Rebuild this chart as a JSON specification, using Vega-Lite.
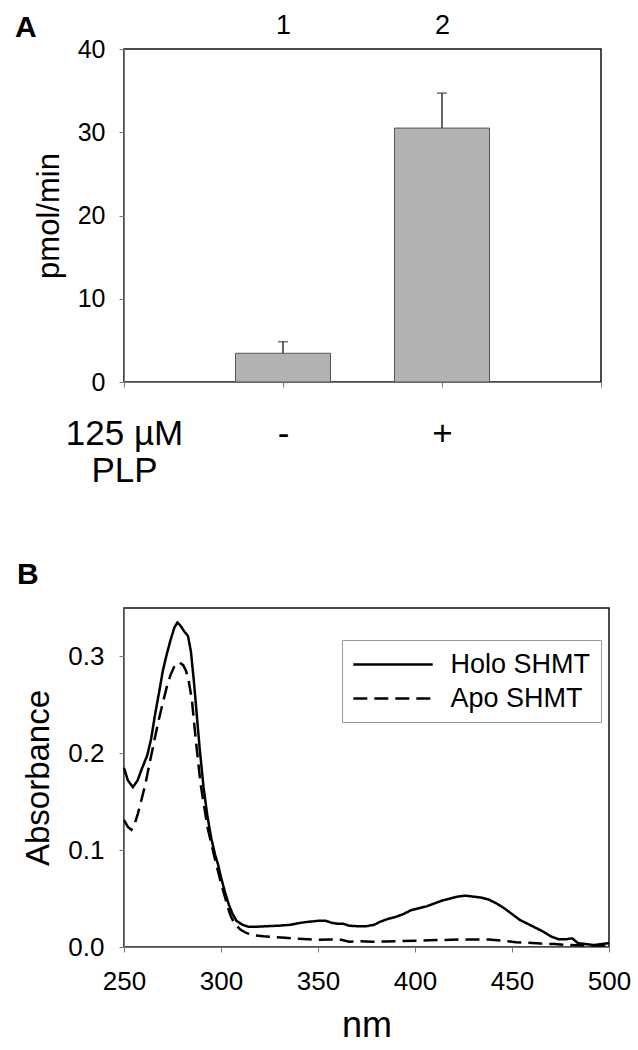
{
  "$schema": "https://vega.github.io/schema/vega-lite/v6.json",
  "padding": {"left": 14, "top": 10, "right": 5, "bottom": 5},
  "spacing": 70,
  "resolve": {"legend": {"strokeDash": "independent"}},
  "config": {
    "font": "Liberation Sans",
    "view": {"stroke": "#111", "strokeWidth": 1.5},
    "axis": {"labelFont": "Liberation Sans", "titleFont": "Liberation Sans", "labelColor": "black", "titleColor": "black", "grid": false, "titleFontWeight": "normal", "domainColor": "#777", "tickColor": "#777", "tickSize": 5},
    "legend": {"labelFont": "Liberation Sans", "labelColor": "black"},
    "title": {"font": "Liberation Sans", "color": "black"}
  },
  "vconcat": [
    {
      "width": 477,
      "height": 333,
      "title": {"text": "A", "anchor": "start", "frame": "group", "fontSize": 30, "fontWeight": "bold", "offset": -32, "dx": -109},
      "data": {"values": [
        {"pos": "1", "plp": "-", "value": 3.45, "upper": 4.84},
        {"pos": "2", "plp": "+", "value": 30.5, "upper": 34.7}
      ]},
      "layer": [
        {
          "mark": {"type": "bar", "width": 95, "color": "#b2b2b2", "stroke": "#555", "strokeWidth": 1},
          "encoding": {
            "x": {"field": "pos", "type": "ordinal", "scale": {"type": "point", "domain": ["0", "1", "2", "3"], "padding": 0},
              "axis": {"orient": "bottom", "title": null, "labelAngle": 0, "labelOverlap": false, "labelFontSize": 35, "labelLineHeight": 37, "labelPadding": 29,
                "labelExpr": "datum.value == '0' ? ['125 µM', 'PLP'] : datum.value == '1' ? '-' : datum.value == '2' ? '+' : ''"}},
            "y": {"field": "value", "type": "quantitative", "title": "pmol/min", "scale": {"domain": [0, 40], "nice": false},
              "axis": {"values": [0, 10, 20, 30, 40], "labelFontSize": 25, "labelPadding": 14, "titleFontSize": 31, "titlePadding": 12}}
          }
        },
        {
          "mark": {"type": "rule", "color": "#333", "strokeWidth": 1.5},
          "encoding": {
            "x": {"field": "pos", "type": "ordinal", "scale": {"type": "point", "domain": ["0", "1", "2", "3"], "padding": 0},
              "axis": {"orient": "top", "title": null, "values": ["1", "2"], "ticks": false, "domain": false, "labelAngle": 0, "labelFontSize": 27, "labelPadding": 10}},
            "y": {"field": "value", "type": "quantitative", "title": "pmol/min"},
            "y2": {"field": "upper"}
          }
        },
        {
          "mark": {"type": "tick", "color": "#333", "size": 10, "thickness": 1.5},
          "encoding": {
            "x": {"field": "pos", "type": "ordinal", "axis": null},
            "y": {"field": "upper", "type": "quantitative", "title": "pmol/min"}
          }
        }
      ],
      "resolve": {"axis": {"x": "independent"}}
    },
    {
      "width": 485,
      "height": 339,
      "title": {"text": "B", "anchor": "start", "frame": "group", "fontSize": 30, "fontWeight": "bold", "offset": 18, "dx": -107},
      "data": {"values": [
        {"sample": "Holo SHMT", "nm": 250, "abs": 0.185},
        {"sample": "Holo SHMT", "nm": 252, "abs": 0.172},
        {"sample": "Holo SHMT", "nm": 254.6, "abs": 0.165},
        {"sample": "Holo SHMT", "nm": 257, "abs": 0.172},
        {"sample": "Holo SHMT", "nm": 259, "abs": 0.183},
        {"sample": "Holo SHMT", "nm": 262, "abs": 0.198},
        {"sample": "Holo SHMT", "nm": 264, "abs": 0.215},
        {"sample": "Holo SHMT", "nm": 266, "abs": 0.24},
        {"sample": "Holo SHMT", "nm": 268, "abs": 0.262},
        {"sample": "Holo SHMT", "nm": 270, "abs": 0.285},
        {"sample": "Holo SHMT", "nm": 272, "abs": 0.302},
        {"sample": "Holo SHMT", "nm": 274, "abs": 0.317},
        {"sample": "Holo SHMT", "nm": 276, "abs": 0.33},
        {"sample": "Holo SHMT", "nm": 277.5, "abs": 0.335},
        {"sample": "Holo SHMT", "nm": 279, "abs": 0.332},
        {"sample": "Holo SHMT", "nm": 281, "abs": 0.326},
        {"sample": "Holo SHMT", "nm": 283, "abs": 0.321},
        {"sample": "Holo SHMT", "nm": 284.5, "abs": 0.305},
        {"sample": "Holo SHMT", "nm": 286, "abs": 0.275},
        {"sample": "Holo SHMT", "nm": 287.5, "abs": 0.24},
        {"sample": "Holo SHMT", "nm": 289, "abs": 0.205},
        {"sample": "Holo SHMT", "nm": 291, "abs": 0.165},
        {"sample": "Holo SHMT", "nm": 293, "abs": 0.135},
        {"sample": "Holo SHMT", "nm": 295, "abs": 0.112},
        {"sample": "Holo SHMT", "nm": 297, "abs": 0.095},
        {"sample": "Holo SHMT", "nm": 298.5, "abs": 0.085},
        {"sample": "Holo SHMT", "nm": 300, "abs": 0.072},
        {"sample": "Holo SHMT", "nm": 302, "abs": 0.057},
        {"sample": "Holo SHMT", "nm": 304, "abs": 0.044},
        {"sample": "Holo SHMT", "nm": 306, "abs": 0.034},
        {"sample": "Holo SHMT", "nm": 308, "abs": 0.027},
        {"sample": "Holo SHMT", "nm": 311, "abs": 0.023},
        {"sample": "Holo SHMT", "nm": 314, "abs": 0.021},
        {"sample": "Holo SHMT", "nm": 319, "abs": 0.021},
        {"sample": "Holo SHMT", "nm": 324, "abs": 0.0215},
        {"sample": "Holo SHMT", "nm": 330, "abs": 0.022},
        {"sample": "Holo SHMT", "nm": 336, "abs": 0.023},
        {"sample": "Holo SHMT", "nm": 341, "abs": 0.025},
        {"sample": "Holo SHMT", "nm": 345, "abs": 0.026},
        {"sample": "Holo SHMT", "nm": 350, "abs": 0.027},
        {"sample": "Holo SHMT", "nm": 354, "abs": 0.027},
        {"sample": "Holo SHMT", "nm": 357, "abs": 0.025},
        {"sample": "Holo SHMT", "nm": 360, "abs": 0.024},
        {"sample": "Holo SHMT", "nm": 363, "abs": 0.024},
        {"sample": "Holo SHMT", "nm": 366, "abs": 0.022},
        {"sample": "Holo SHMT", "nm": 370, "abs": 0.0215},
        {"sample": "Holo SHMT", "nm": 375, "abs": 0.0215},
        {"sample": "Holo SHMT", "nm": 379, "abs": 0.023},
        {"sample": "Holo SHMT", "nm": 382, "abs": 0.026},
        {"sample": "Holo SHMT", "nm": 386, "abs": 0.029},
        {"sample": "Holo SHMT", "nm": 390, "abs": 0.031},
        {"sample": "Holo SHMT", "nm": 394, "abs": 0.034},
        {"sample": "Holo SHMT", "nm": 398, "abs": 0.038},
        {"sample": "Holo SHMT", "nm": 402, "abs": 0.04},
        {"sample": "Holo SHMT", "nm": 406, "abs": 0.042},
        {"sample": "Holo SHMT", "nm": 410, "abs": 0.045},
        {"sample": "Holo SHMT", "nm": 414, "abs": 0.048},
        {"sample": "Holo SHMT", "nm": 418, "abs": 0.05},
        {"sample": "Holo SHMT", "nm": 422, "abs": 0.052},
        {"sample": "Holo SHMT", "nm": 426, "abs": 0.053},
        {"sample": "Holo SHMT", "nm": 430, "abs": 0.052},
        {"sample": "Holo SHMT", "nm": 434, "abs": 0.051},
        {"sample": "Holo SHMT", "nm": 438, "abs": 0.049},
        {"sample": "Holo SHMT", "nm": 442, "abs": 0.045},
        {"sample": "Holo SHMT", "nm": 446, "abs": 0.04},
        {"sample": "Holo SHMT", "nm": 450, "abs": 0.034},
        {"sample": "Holo SHMT", "nm": 454, "abs": 0.028},
        {"sample": "Holo SHMT", "nm": 458, "abs": 0.024},
        {"sample": "Holo SHMT", "nm": 462, "abs": 0.02},
        {"sample": "Holo SHMT", "nm": 466, "abs": 0.016},
        {"sample": "Holo SHMT", "nm": 470, "abs": 0.011},
        {"sample": "Holo SHMT", "nm": 474, "abs": 0.008},
        {"sample": "Holo SHMT", "nm": 478, "abs": 0.008},
        {"sample": "Holo SHMT", "nm": 481, "abs": 0.009},
        {"sample": "Holo SHMT", "nm": 484, "abs": 0.004},
        {"sample": "Holo SHMT", "nm": 488, "abs": 0.003},
        {"sample": "Holo SHMT", "nm": 492, "abs": 0.002},
        {"sample": "Holo SHMT", "nm": 496, "abs": 0.003},
        {"sample": "Holo SHMT", "nm": 500, "abs": 0.004},
        {"sample": "Apo SHMT", "nm": 250, "abs": 0.131},
        {"sample": "Apo SHMT", "nm": 252, "abs": 0.124},
        {"sample": "Apo SHMT", "nm": 253.8, "abs": 0.121},
        {"sample": "Apo SHMT", "nm": 255.5, "abs": 0.127},
        {"sample": "Apo SHMT", "nm": 257.2, "abs": 0.138},
        {"sample": "Apo SHMT", "nm": 259, "abs": 0.152},
        {"sample": "Apo SHMT", "nm": 261, "abs": 0.168},
        {"sample": "Apo SHMT", "nm": 263, "abs": 0.188},
        {"sample": "Apo SHMT", "nm": 265, "abs": 0.207},
        {"sample": "Apo SHMT", "nm": 267.5, "abs": 0.231},
        {"sample": "Apo SHMT", "nm": 270, "abs": 0.252},
        {"sample": "Apo SHMT", "nm": 272, "abs": 0.268},
        {"sample": "Apo SHMT", "nm": 274, "abs": 0.281},
        {"sample": "Apo SHMT", "nm": 276, "abs": 0.29},
        {"sample": "Apo SHMT", "nm": 278.5, "abs": 0.294},
        {"sample": "Apo SHMT", "nm": 280.5, "abs": 0.291},
        {"sample": "Apo SHMT", "nm": 282, "abs": 0.285},
        {"sample": "Apo SHMT", "nm": 283.5, "abs": 0.273},
        {"sample": "Apo SHMT", "nm": 285, "abs": 0.255},
        {"sample": "Apo SHMT", "nm": 287, "abs": 0.214},
        {"sample": "Apo SHMT", "nm": 289.5, "abs": 0.168},
        {"sample": "Apo SHMT", "nm": 291.5, "abs": 0.143},
        {"sample": "Apo SHMT", "nm": 293, "abs": 0.124},
        {"sample": "Apo SHMT", "nm": 295, "abs": 0.107},
        {"sample": "Apo SHMT", "nm": 296.6, "abs": 0.093},
        {"sample": "Apo SHMT", "nm": 298.5, "abs": 0.078},
        {"sample": "Apo SHMT", "nm": 300, "abs": 0.066},
        {"sample": "Apo SHMT", "nm": 302, "abs": 0.052},
        {"sample": "Apo SHMT", "nm": 303.5, "abs": 0.041},
        {"sample": "Apo SHMT", "nm": 305, "abs": 0.032},
        {"sample": "Apo SHMT", "nm": 307, "abs": 0.024},
        {"sample": "Apo SHMT", "nm": 310, "abs": 0.018},
        {"sample": "Apo SHMT", "nm": 313, "abs": 0.0145},
        {"sample": "Apo SHMT", "nm": 317, "abs": 0.012},
        {"sample": "Apo SHMT", "nm": 322, "abs": 0.011},
        {"sample": "Apo SHMT", "nm": 327, "abs": 0.0103},
        {"sample": "Apo SHMT", "nm": 333, "abs": 0.0095},
        {"sample": "Apo SHMT", "nm": 338, "abs": 0.0086},
        {"sample": "Apo SHMT", "nm": 345, "abs": 0.008},
        {"sample": "Apo SHMT", "nm": 350, "abs": 0.0076},
        {"sample": "Apo SHMT", "nm": 356, "abs": 0.0078},
        {"sample": "Apo SHMT", "nm": 362, "abs": 0.0075},
        {"sample": "Apo SHMT", "nm": 366, "abs": 0.0055},
        {"sample": "Apo SHMT", "nm": 371, "abs": 0.006},
        {"sample": "Apo SHMT", "nm": 378, "abs": 0.0055},
        {"sample": "Apo SHMT", "nm": 385, "abs": 0.0058},
        {"sample": "Apo SHMT", "nm": 392, "abs": 0.006},
        {"sample": "Apo SHMT", "nm": 400, "abs": 0.0065},
        {"sample": "Apo SHMT", "nm": 407, "abs": 0.007},
        {"sample": "Apo SHMT", "nm": 415, "abs": 0.0072},
        {"sample": "Apo SHMT", "nm": 423, "abs": 0.0078},
        {"sample": "Apo SHMT", "nm": 430, "abs": 0.0078},
        {"sample": "Apo SHMT", "nm": 438, "abs": 0.0078},
        {"sample": "Apo SHMT", "nm": 445, "abs": 0.0065},
        {"sample": "Apo SHMT", "nm": 452, "abs": 0.005},
        {"sample": "Apo SHMT", "nm": 458, "abs": 0.0045},
        {"sample": "Apo SHMT", "nm": 465, "abs": 0.0035},
        {"sample": "Apo SHMT", "nm": 472, "abs": 0.003},
        {"sample": "Apo SHMT", "nm": 480, "abs": 0.002},
        {"sample": "Apo SHMT", "nm": 490, "abs": 0.0015},
        {"sample": "Apo SHMT", "nm": 500, "abs": 0.0017}
      ]},
      "mark": {"type": "line", "strokeWidth": 2.5, "color": "black"},
      "encoding": {
        "x": {"field": "nm", "type": "quantitative", "title": "nm", "scale": {"domain": [250, 500], "nice": false},
          "axis": {"values": [250, 300, 350, 400, 450, 500], "labelFontSize": 26, "labelPadding": 16, "titleFontSize": 36, "titlePadding": 14, "labelFlush": false}},
        "y": {"field": "abs", "type": "quantitative", "title": "Absorbance", "scale": {"domain": [0, 0.35], "nice": false},
          "axis": {"values": [0, 0.1, 0.2, 0.3], "format": ".1f", "labelFontSize": 26, "labelPadding": 15, "titleFontSize": 33, "titlePadding": 12}},
        "strokeDash": {"field": "sample", "type": "nominal",
          "scale": {"domain": ["Holo SHMT", "Apo SHMT"], "range": [[1, 0], [14, 7]]},
          "legend": {"title": null, "orient": "none", "legendX": 218, "legendY": 32, "symbolType": "M-3,0H3", "symbolSize": 700, "symbolOffset": 26.5, "symbolStrokeWidth": 2.5, "symbolStrokeColor": "black", "labelFontSize": 27, "labelOffset": 43, "rowPadding": 6, "padding": 10, "strokeColor": "#999"}}
      }
    }
  ]
}
